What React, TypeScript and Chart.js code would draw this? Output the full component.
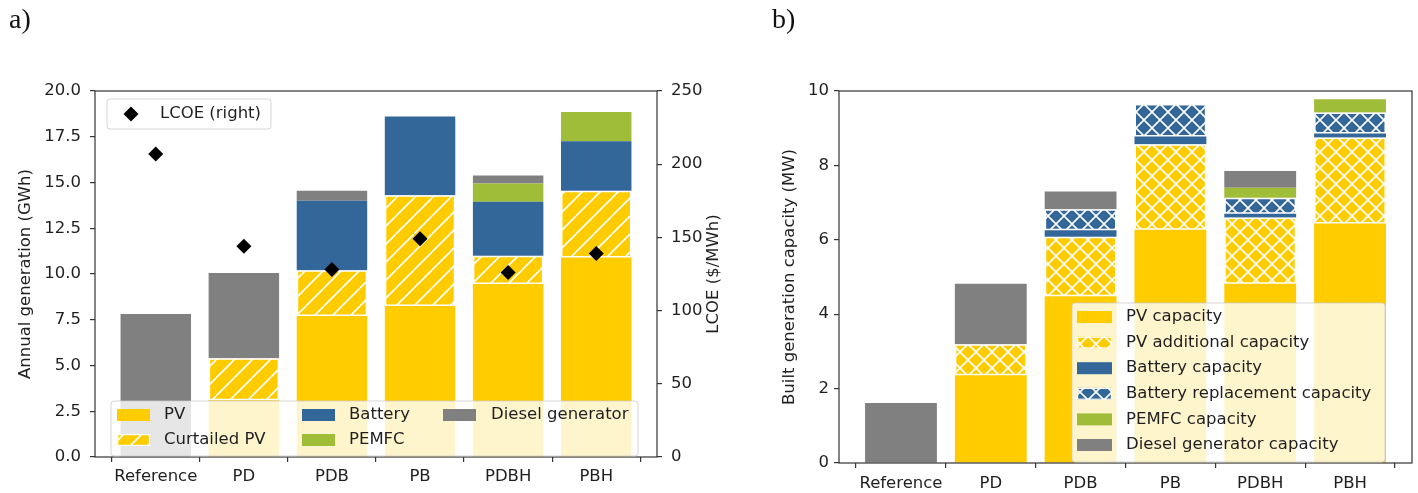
import React, { useEffect, useRef } from 'react';
import { Chart, registerables } from 'chart.js';

Chart.register(...registerables);

// ---------- data ----------
const categories = ['Reference', 'PD', 'PDB', 'PB', 'PDBH', 'PBH'];

// Panel a) annual generation (GWh)
const genPV = [0, 3.1, 7.7, 8.25, 9.45, 10.9];
const genCurtailedPV = [0, 2.3, 2.5, 6.05, 1.55, 3.65];
const genBattery = [0, 0, 3.8, 4.3, 2.95, 2.7];
const genPEMFC = [0, 0, 0, 0, 1.0, 1.6];
const genDiesel = [7.82, 4.65, 0.55, 0, 0.43, 0];
const lcoe = [207, 144, 128, 149, 126, 139];
const genTicks = [0, 2.5, 5, 7.5, 10, 12.5, 15, 17.5, 20];
const lcoeTicks = [0, 50, 100, 150, 200, 250];

// Panel b) built generation capacity (MW)
const capPV = [0, 2.36, 4.48, 6.27, 4.82, 6.44];
const capPVAdd = [0, 0.83, 1.6, 2.3, 1.78, 2.31];
const capBattery = [0, 0, 0.18, 0.21, 0.1, 0.11];
const capBatteryRepl = [0, 0, 0.56, 0.87, 0.43, 0.56];
const capPEMFC = [0, 0, 0, 0, 0.27, 0.36];
const capDiesel = [1.61, 1.63, 0.48, 0, 0.45, 0];
const capTicks = [0, 2, 4, 6, 8, 10];

// ---------- styles ----------
const AX = '#333333';
const TXT = '#1f1f1f';
const FONT = '"DejaVu Sans", sans-serif';
const FS = 16.5;
const C_PV = '#ffcc00';
const C_BAT = '#336699';
const C_PEM = '#a0bd39';
const C_DIE = '#808080';

function hatch(bg: string, period: number, cross: boolean): CanvasPattern {
  const c = document.createElement('canvas');
  c.width = period;
  c.height = period;
  const g = c.getContext('2d')!;
  g.fillStyle = bg;
  g.fillRect(0, 0, period, period);
  g.strokeStyle = '#ffffff';
  g.lineWidth = 1.6;
  g.beginPath();
  for (const o of [-period, 0, period]) {
    g.moveTo(o, period);
    g.lineTo(o + period, 0);
    if (cross) {
      g.moveTo(o, 0);
      g.lineTo(o + period, period);
    }
  }
  g.stroke();
  return g.createPattern(c, 'repeat')!;
}

function roundBox(ctx: CanvasRenderingContext2D, x: number, y: number, w: number, h: number, r: number) {
  ctx.beginPath();
  ctx.moveTo(x + r, y);
  ctx.arcTo(x + w, y, x + w, y + h, r);
  ctx.arcTo(x + w, y + h, x, y + h, r);
  ctx.arcTo(x, y + h, x, y, r);
  ctx.arcTo(x, y, x + w, y, r);
  ctx.closePath();
  ctx.fillStyle = 'rgba(255,255,255,0.8)';
  ctx.fill();
  ctx.strokeStyle = 'rgba(204,204,204,0.8)';
  ctx.lineWidth = 1;
  ctx.stroke();
}

function swatch(ctx: CanvasRenderingContext2D, x: number, yc: number, w: number, h: number, fill: any, edge: boolean) {
  ctx.fillStyle = fill;
  ctx.fillRect(x, yc - h / 2, w, h);
  if (edge) {
    ctx.strokeStyle = '#ffffff';
    ctx.lineWidth = 1.2;
    ctx.strokeRect(x + 0.6, yc - h / 2 + 0.6, w - 1.2, h - 1.2);
  }
}

function text(ctx: CanvasRenderingContext2D, s: string, x: number, y: number) {
  ctx.fillStyle = TXT;
  ctx.font = `${FS}px ${FONT}`;
  ctx.textAlign = 'left';
  ctx.textBaseline = 'middle';
  ctx.fillText(s, x, y);
}

function frame(ctx: CanvasRenderingContext2D, a: any) {
  ctx.strokeStyle = AX;
  ctx.lineWidth = 1.2;
  ctx.strokeRect(a.left, a.top, a.right - a.left, a.bottom - a.top);
}

const tickGrid = { drawOnChartArea: false, drawTicks: true, tickLength: 5, color: AX, lineWidth: 1.2 };

export default function App() {
  const refA = useRef<HTMLCanvasElement>(null);
  const refB = useRef<HTMLCanvasElement>(null);

  useEffect(() => {
    Chart.defaults.font.family = FONT;
    Chart.defaults.font.size = FS;
    Chart.defaults.color = TXT;

    const curtPat = hatch(C_PV, 18, false);
    const pvAddPat = hatch(C_PV, 16, true);
    const batReplPat = hatch(C_BAT, 16, true);
    const xy = (arr: number[]) => arr.map((v, i) => ({ x: i, y: v }));

    const barCommon = { barPercentage: 0.8, categoryPercentage: 1.0, borderSkipped: false as const };

    const pluginA = {
      id: 'decorA',
      afterDraw(chart: any) {
        const ctx: CanvasRenderingContext2D = chart.ctx;
        const a = chart.chartArea;
        ctx.save();
        frame(ctx, a);
        // right axis title, reading bottom-to-top
        ctx.save();
        ctx.translate(714, (a.top + a.bottom) / 2);
        ctx.rotate(-Math.PI / 2);
        ctx.fillStyle = TXT;
        ctx.font = `${FS}px ${FONT}`;
        ctx.textAlign = 'center';
        ctx.textBaseline = 'middle';
        ctx.fillText('LCOE ($/MWh)', 0, 0);
        ctx.restore();
        // LCOE legend
        roundBox(ctx, 107, 99, 164, 30, 3);
        const dx = 131, dy = 114, r = 7.5;
        ctx.fillStyle = '#000';
        ctx.beginPath();
        ctx.moveTo(dx, dy - r);
        ctx.lineTo(dx + r, dy);
        ctx.lineTo(dx, dy + r);
        ctx.lineTo(dx - r, dy);
        ctx.closePath();
        ctx.fill();
        text(ctx, chart.data.datasets[0].label, 160, 114);
        // bars legend
        roundBox(ctx, 111, 401, 527, 55, 3);
        const ds = chart.data.datasets;
        const pos = [
          [117, 164, 415], [117, 164, 440],
          [302, 349, 415], [302, 349, 440],
          [443, 491, 415],
        ];
        for (let i = 0; i < 5; i++) {
          const d = ds[i + 1];
          const [sx, tx, ty] = pos[i];
          swatch(ctx, sx, ty, 33, 12, d.backgroundColor, d.borderWidth > 0);
          text(ctx, d.label, tx, ty);
        }
        ctx.restore();
      },
    };

    const chartA = new Chart(refA.current!, {
      type: 'bar',
      data: {
        datasets: [
          {
            type: 'line',
            label: 'LCOE (right)',
            data: xy(lcoe),
            yAxisID: 'y2',
            showLine: false,
            pointStyle: 'rectRot',
            pointRadius: 7.5,
            pointHoverRadius: 7.5,
            pointBorderWidth: 0,
            backgroundColor: '#000',
            borderColor: '#000',
            order: -1,
          } as any,
          { label: 'PV', data: xy(genPV), backgroundColor: C_PV, borderWidth: 0, ...barCommon },
          { label: 'Curtailed PV', data: xy(genCurtailedPV), backgroundColor: curtPat, borderColor: '#fff', borderWidth: 1.5, ...barCommon },
          { label: 'Battery', data: xy(genBattery), backgroundColor: C_BAT, borderWidth: 0, ...barCommon },
          { label: 'PEMFC', data: xy(genPEMFC), backgroundColor: C_PEM, borderWidth: 0, ...barCommon },
          { label: 'Diesel generator', data: xy(genDiesel), backgroundColor: C_DIE, borderWidth: 0, ...barCommon },
        ],
      },
      options: {
        animation: false,
        responsive: false,
        events: [],
        layout: { padding: { top: 91, left: 0, right: 0, bottom: 0 } },
        plugins: { legend: { display: false }, tooltip: { enabled: false } },
        scales: {
          x: {
            type: 'linear',
            min: -0.69,
            max: 5.69,
            stacked: true,
            offset: false,
            bounds: 'data',
            afterBuildTicks: (s: any) => { s.ticks = categories.map((_, i) => ({ value: i })); },
            ticks: { callback: (v: any) => categories[v] ?? '', autoSkip: false, maxRotation: 0, padding: 5, color: TXT },
            grid: tickGrid,
            border: { display: false },
            afterFit: (s: any) => { s.height = 36; },
          },
          y: {
            type: 'linear',
            position: 'left',
            min: 0,
            max: 20,
            stacked: true,
            afterBuildTicks: (s: any) => { s.ticks = genTicks.map((v) => ({ value: v })); },
            ticks: { callback: (v: any) => Number(v).toFixed(1), padding: 9, color: TXT },
            grid: tickGrid,
            border: { display: false },
            title: { display: true, text: 'Annual generation (GWh)', padding: { top: 16, bottom: 0 }, color: TXT },
            afterFit: (s: any) => { s.width = 95; },
          },
          y2: {
            type: 'linear',
            position: 'right',
            min: 0,
            max: 250,
            stacked: false,
            afterBuildTicks: (s: any) => { s.ticks = lcoeTicks.map((v) => ({ value: v })); },
            ticks: { callback: (v: any) => String(v), padding: 9, color: TXT },
            grid: tickGrid,
            border: { display: false },
            afterFit: (s: any) => { s.width = 83; },
          },
        },
      } as any,
      plugins: [pluginA],
    });

    const pluginB = {
      id: 'decorB',
      afterDraw(chart: any) {
        const ctx: CanvasRenderingContext2D = chart.ctx;
        const a = chart.chartArea;
        ctx.save();
        frame(ctx, a);
        roundBox(ctx, 352, 303, 313, 159, 3);
        const ds = chart.data.datasets;
        for (let i = 0; i < ds.length; i++) {
          const y = 317 + i * 25.6;
          swatch(ctx, 357, y, 35, 12, ds[i].backgroundColor, ds[i].borderWidth > 0);
          text(ctx, ds[i].label, 406, y);
        }
        ctx.restore();
      },
    };

    const chartB = new Chart(refB.current!, {
      type: 'bar',
      data: {
        datasets: [
          { label: 'PV capacity', data: xy(capPV), backgroundColor: C_PV, borderWidth: 0, ...barCommon },
          { label: 'PV additional capacity', data: xy(capPVAdd), backgroundColor: pvAddPat, borderColor: '#fff', borderWidth: 1.5, ...barCommon },
          { label: 'Battery capacity', data: xy(capBattery), backgroundColor: C_BAT, borderWidth: 0, ...barCommon },
          { label: 'Battery replacement capacity', data: xy(capBatteryRepl), backgroundColor: batReplPat, borderColor: '#fff', borderWidth: 1.5, ...barCommon },
          { label: 'PEMFC capacity', data: xy(capPEMFC), backgroundColor: C_PEM, borderWidth: 0, ...barCommon },
          { label: 'Diesel generator capacity', data: xy(capDiesel), backgroundColor: C_DIE, borderWidth: 0, ...barCommon },
        ],
      },
      options: {
        animation: false,
        responsive: false,
        events: [],
        layout: { padding: { top: 91, left: 0, right: 6, bottom: 0 } },
        plugins: { legend: { display: false }, tooltip: { enabled: false } },
        scales: {
          x: {
            type: 'linear',
            min: -0.69,
            max: 5.69,
            stacked: true,
            offset: false,
            bounds: 'data',
            afterBuildTicks: (s: any) => { s.ticks = categories.map((_, i) => ({ value: i })); },
            ticks: { callback: (v: any) => categories[v] ?? '', autoSkip: false, maxRotation: 0, padding: 6, color: TXT },
            grid: tickGrid,
            border: { display: false },
            afterFit: (s: any) => { s.height = 30; },
          },
          y: {
            type: 'linear',
            position: 'left',
            min: 0,
            max: 10,
            stacked: true,
            afterBuildTicks: (s: any) => { s.ticks = capTicks.map((v) => ({ value: v })); },
            ticks: { callback: (v: any) => String(v), padding: 5, color: TXT },
            grid: tickGrid,
            border: { display: false },
            title: { display: true, text: 'Built generation capacity (MW)', padding: { top: 60, bottom: 0 }, color: TXT },
            afterFit: (s: any) => { s.width = 119; },
          },
        },
      } as any,
      plugins: [pluginB],
    });

    return () => {
      chartA.destroy();
      chartB.destroy();
    };
  }, []);

  const labelStyle: React.CSSProperties = {
    position: 'absolute',
    top: 5,
    fontFamily: '"Liberation Serif", serif',
    fontSize: 28,
    lineHeight: 1,
    color: '#111',
  };

  return (
    <div style={{ position: 'absolute', left: 0, top: 0, width: 1418, height: 493, background: '#fff', overflow: 'hidden' }}>
      <canvas ref={refA} width={740} height={493} style={{ position: 'absolute', left: 0, top: 0 }} />
      <canvas ref={refB} width={698} height={493} style={{ position: 'absolute', left: 720, top: 0 }} />
      <div style={{ ...labelStyle, left: 9 }}>a)</div>
      <div style={{ ...labelStyle, left: 772 }}>b)</div>
    </div>
  );
}
